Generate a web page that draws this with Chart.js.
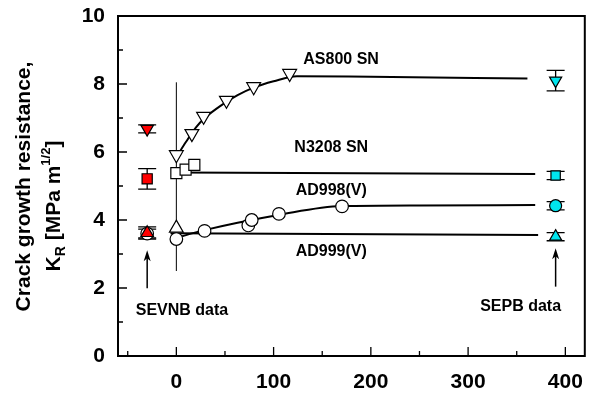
<!DOCTYPE html>
<html>
<head>
<meta charset="utf-8">
<script src="https://cdn.jsdelivr.net/npm/chart.js@4"></script>
<style>
    html, body { margin: 0; padding: 0; background: #fff; }
    canvas { display: block; }
</style>
</head>
<body>
<canvas id="krChart" width="594" height="397"></canvas>
<script>
// axis ticks
const xTicks = [0, 100, 200, 300, 400];
const xMinorTicks = [-50, 50, 150, 250, 350];
const yTicks = [0, 2, 4, 6, 8, 10];
const yMinorTicks = [1, 3, 5, 7, 9];

// AS800 SN (chevron notch)
const asX = [0, 16, 28, 51.5, 79.5, 116.5];
const asY = [5.92, 6.54, 7.05, 7.52, 7.92, 8.31];
const asFitX = [0, 10, 20, 30, 45, 63, 80, 100, 124, 200, 361];
const asFitY = [5.85, 6.3, 6.72, 7.02, 7.35, 7.67, 7.9, 8.08, 8.23, 8.21, 8.16];

// N3208 SN
const nX = [0, 9.5, 18.5];
const nY = [5.38, 5.48, 5.62];
const nFitX = [0, 369];
const nFitY = [5.4, 5.35];

// AD998(V)
const ad998X = [0, 29, 74, 77.5, 105.5, 170.4];
const ad998Y = [3.44, 3.68, 3.84, 4.0, 4.18, 4.4];
const ad998FitX = [0, 15, 30, 63, 105, 170, 250, 369];
const ad998FitY = [3.47, 3.6, 3.71, 3.92, 4.15, 4.41, 4.43, 4.44];

// AD999(V)
const ad999X = [0];
const ad999Y = [3.76];
const ad999FitX = [-6, 372];
const ad999FitY = [3.61, 3.56];

// vertical marker line at x = 0
const zeroLineX = [0, 0];
const zeroLineY = [2.5, 8.05];

// SEVNB data: AS800, N3208, AD998, AD999
const sevnbX = -30;
const sevnbY = [6.68, 5.21, 3.6, 3.62];
const sevnbErr = [0.12, 0.3, 0.13, 0.18];

// SEPB data: AS800, N3208, AD998, AD999
const sepbX = 390;
const sepbY = [8.1, 5.31, 4.42, 3.51];
const sepbErr = [0.3, 0.12, 0.12, 0.12];

// annotations
const labelTexts = ["AS800 SN", "N3208 SN", "AD998(V)", "AD999(V)", "SEVNB data", "SEPB data"];
const labelX = [169.4, 159.3, 159.3, 159.3, 5.8, 354];
const labelY = [8.72, 6.13, 4.86, 3.06, 1.33, 1.45];
const arrowX = [-30, 390];
const arrowFromY = [1.99, 2.04];
const arrowToY = [3.11, 3.17];

const FONT = "'Liberation Sans', Arial, sans-serif";

function pts(xs, ys) {
    return xs.map((x, i) => ({ x: x, y: ys[i] }));
}

function lineSet(xs, ys, width, smooth) {
    return {
        data: pts(xs, ys),
        showLine: true,
        borderColor: "#000",
        borderWidth: width,
        pointRadius: 0,
        cubicInterpolationMode: smooth ? "monotone" : "default",
        order: 10,
    };
}

function markerSet(xs, ys, style, rotation, radius, fill) {
    return {
        data: pts(xs, ys),
        showLine: false,
        pointStyle: style,
        rotation: rotation,
        pointRadius: radius,
        pointBackgroundColor: fill,
        pointBorderColor: "#000",
        pointBorderWidth: 1.2,
        order: 1,
    };
}

const datasets = [
    lineSet(zeroLineX, zeroLineY, 1, false),
    lineSet(asFitX, asFitY, 2, true),
    lineSet(nFitX, nFitY, 2, false),
    lineSet(ad998FitX, ad998FitY, 2, true),
    lineSet(ad999FitX, ad999FitY, 2, false),
    markerSet(asX, asY, "triangle", 180, 8, "#fff"),
    markerSet(nX, nY, "rect", 0, 7.8, "#fff"),
    markerSet(ad998X, ad998Y, "circle", 0, 6.3, "#fff"),
    markerSet(ad999X, ad999Y, "triangle", 0, 8, "#fff"),
    // SEVNB
    markerSet([sevnbX], [sevnbY[0]], "triangle", 180, 7.2, "#ff0000"),
    markerSet([sevnbX], [sevnbY[1]], "rect", 0, 7.2, "#ff0000"),
    markerSet([sevnbX], [sevnbY[2]], "circle", 0, 6.3, "#fff"),
    markerSet([sevnbX], [sevnbY[3]], "triangle", 0, 7.2, "#ff0000"),
    // SEPB
    markerSet([sepbX], [sepbY[0]], "triangle", 180, 7, "#00e5ee"),
    markerSet([sepbX], [sepbY[1]], "rect", 0, 6.6, "#00e5ee"),
    markerSet([sepbX], [sepbY[2]], "circle", 0, 6, "#00e5ee"),
    markerSet([sepbX], [sepbY[3]], "triangle", 0, 7, "#00e5ee"),
];

// later datasets drawn on top among markers
datasets.forEach((d, i) => {
    if (d.order === 1) d.order = 1 - i * 0.01;
});

const errorBars = {
    id: "errorBars",
    beforeDatasetsDraw(chart) {
        const { ctx, scales } = chart;
        const sx = scales.x, sy = scales.y;
        ctx.save();
        ctx.strokeStyle = "#000";
        ctx.lineWidth = 1.3;
        const groups = [[sevnbX, sevnbY, sevnbErr], [sepbX, sepbY, sepbErr]];
        groups.forEach(([gx, gy, ge]) => {
            const px = sx.getPixelForValue(gx);
            gy.forEach((v, i) => {
                const top = sy.getPixelForValue(v + ge[i]);
                const bot = sy.getPixelForValue(v - ge[i]);
                ctx.beginPath();
                ctx.moveTo(px, top); ctx.lineTo(px, bot);
                ctx.moveTo(px - 9, top); ctx.lineTo(px + 9, top);
                ctx.moveTo(px - 9, bot); ctx.lineTo(px + 9, bot);
                ctx.stroke();
            });
        });
        ctx.restore();
    },
};

const decorations = {
    id: "decorations",
    afterDraw(chart) {
        const { ctx, chartArea, scales } = chart;
        const sx = scales.x, sy = scales.y;
        ctx.save();

        // frame
        ctx.strokeStyle = "#000";
        ctx.lineWidth = 2;
        ctx.strokeRect(chartArea.left, chartArea.top, chartArea.right - chartArea.left, chartArea.bottom - chartArea.top);

        // inward ticks on bottom and left
        ctx.lineWidth = 1.3;
        ctx.beginPath();
        xTicks.forEach((v) => {
            const p = sx.getPixelForValue(v);
            ctx.moveTo(p, chartArea.bottom); ctx.lineTo(p, chartArea.bottom - 9);
        });
        xMinorTicks.forEach((v) => {
            const p = sx.getPixelForValue(v);
            ctx.moveTo(p, chartArea.bottom); ctx.lineTo(p, chartArea.bottom - 5);
        });
        yTicks.forEach((v) => {
            const p = sy.getPixelForValue(v);
            ctx.moveTo(chartArea.left, p); ctx.lineTo(chartArea.left + 9, p);
        });
        yMinorTicks.forEach((v) => {
            const p = sy.getPixelForValue(v);
            ctx.moveTo(chartArea.left, p); ctx.lineTo(chartArea.left + 5, p);
        });
        ctx.stroke();

        // arrows
        ctx.fillStyle = "#000";
        ctx.lineWidth = 1.5;
        arrowX.forEach((ax, i) => {
            const px = sx.getPixelForValue(ax);
            const y0 = sy.getPixelForValue(arrowFromY[i]);
            const y1 = sy.getPixelForValue(arrowToY[i]);
            ctx.beginPath();
            ctx.moveTo(px, y0); ctx.lineTo(px, y1 + 6);
            ctx.stroke();
            ctx.beginPath();
            ctx.moveTo(px, y1);
            ctx.lineTo(px - 3.5, y1 + 11);
            ctx.lineTo(px, y1 + 8);
            ctx.lineTo(px + 3.5, y1 + 11);
            ctx.closePath();
            ctx.fill();
        });

        // text labels
        ctx.font = "bold 16px " + FONT;
        ctx.textAlign = "center";
        ctx.textBaseline = "middle";
        labelTexts.forEach((t, i) => {
            ctx.fillText(t, sx.getPixelForValue(labelX[i]), sy.getPixelForValue(labelY[i]));
        });

        // y axis title
        ctx.textBaseline = "alphabetic";
        ctx.save();
        ctx.translate(30, 186.5);
        ctx.rotate(-Math.PI / 2);
        ctx.font = "bold 21px " + FONT;
        ctx.fillText("Crack growth resistance,", 0, 0);
        ctx.restore();

        const parts = [
            ["K", "bold 21px", 0],
            ["R", "bold 14px", 5],
            [" [MPa m", "bold 21px", 0],
            ["1/2", "bold 13px", -10],
            ["]", "bold 21px", 0],
        ];
        let total = 0;
        parts.forEach((p) => {
            ctx.font = p[1] + " " + FONT;
            total += ctx.measureText(p[0]).width;
        });
        ctx.save();
        ctx.translate(60, 206);
        ctx.rotate(-Math.PI / 2);
        ctx.textAlign = "left";
        let cx = -total / 2;
        parts.forEach((p) => {
            ctx.font = p[1] + " " + FONT;
            ctx.fillText(p[0], cx, p[2]);
            cx += ctx.measureText(p[0]).width;
        });
        ctx.restore();

        ctx.restore();
    },
};

const tickFont = { family: FONT, size: 21, weight: "bold" };

new Chart(document.getElementById("krChart"), {
    type: "scatter",
    data: { datasets: datasets },
    options: {
        responsive: false,
        animation: false,
        layout: { padding: { top: 16, right: 1, left: 0, bottom: 0 } },
        plugins: { legend: { display: false }, tooltip: { enabled: false } },
        scales: {
            x: {
                type: "linear",
                min: -60,
                max: 420,
                grid: { display: false, drawTicks: false },
                border: { display: false },
                afterBuildTicks: (scale) => {
                    scale.ticks = xTicks.map((v) => ({ value: v }));
                },
                ticks: { font: tickFont, color: "#000", padding: 14, maxRotation: 0 },
                afterFit: (scale) => {
                    scale.height = 41;
                    scale.paddingLeft = 0;
                    scale.paddingRight = 0;
                },
            },
            y: {
                type: "linear",
                min: 0,
                max: 10,
                grid: { display: false, drawTicks: false },
                border: { display: false },
                afterBuildTicks: (scale) => {
                    scale.ticks = yTicks.map((v) => ({ value: v }));
                },
                ticks: { font: tickFont, color: "#000", padding: 13 },
                afterFit: (scale) => {
                    scale.width = 118;
                    scale.paddingTop = 0;
                    scale.paddingBottom = 0;
                },
            },
        },
    },
    plugins: [errorBars, decorations],
});
</script>
</body>
</html>
